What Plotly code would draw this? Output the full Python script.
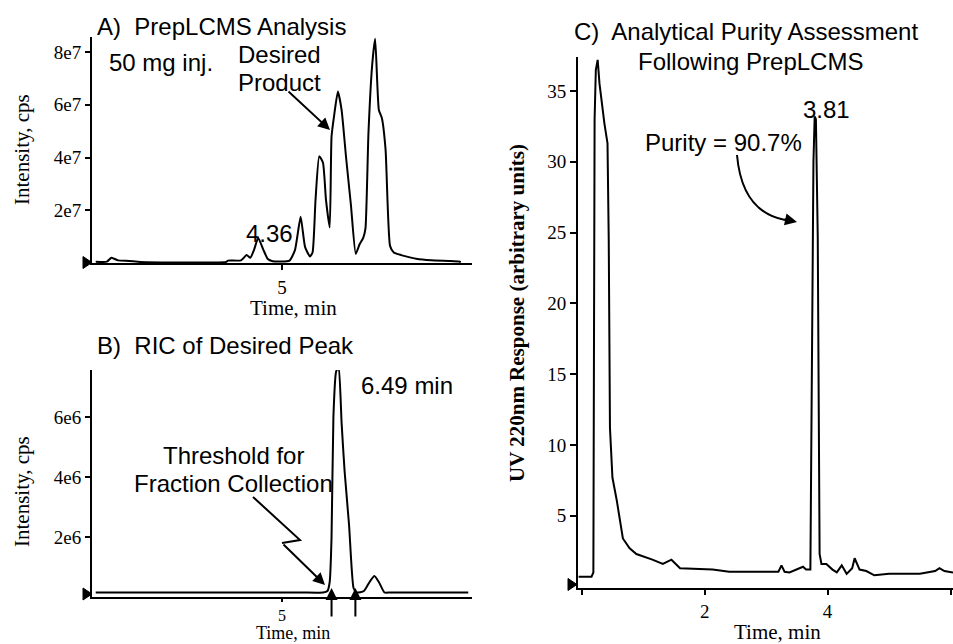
import plotly.graph_objects as go

# panel A: PrepLCMS TIC (time in min, intensity in cps)
a_time = [0.0, 0.3, 0.42, 0.5, 0.6, 0.9, 1.2, 3.5, 3.55, 3.9, 4.05, 4.15, 4.25, 4.36, 4.5, 4.62,
          4.75, 5.2, 5.35, 5.5, 5.62, 5.75, 5.82, 5.9, 6.0, 6.1, 6.18, 6.28, 6.33, 6.4, 6.5, 6.6,
          6.72, 6.85, 6.98, 7.08, 7.18, 7.24, 7.32, 7.42, 7.5, 7.6, 7.68, 7.78, 7.9, 8.0, 8.2,
          8.3, 8.6, 9.0, 9.5, 9.75, 9.8]
a_int = [0.5e6, 0.5e6, 2.0e6, 1.6e6, 1.0e6, 0.8e6, 0.4e6, 0.4e6, 0.9e6, 1.0e6, 3.0e6, 2.0e6,
         5.0e6, 9.5e6, 5.0e6, 1.5e6, 0.7e6, 0.9e6, 5.0e6, 17.5e6, 6.0e6, 2.5e6, 4.0e6, 24e6,
         40.5e6, 38e6, 24e6, 13.5e6, 48e6, 56e6, 65e6, 58e6, 40e6, 22e6, 3.5e6, 7.0e6, 9.5e6,
         13e6, 49e6, 75e6, 85e6, 58e6, 55e6, 43e6, 6.5e6, 4.0e6, 3.0e6, 2.6e6, 1.6e6, 1.0e6,
         0.8e6, 0.6e6, 0.3e6]

# panel B: RIC of the desired peak
b_time = [0.0, 3.0, 5.5, 6.1, 6.22, 6.28, 6.33, 6.38, 6.45, 6.52, 6.6, 6.68, 6.8, 6.92, 7.0,
          7.2, 7.35, 7.48, 7.6, 7.75, 7.9, 8.5, 10.0]
b_int = [0.15e6, 0.15e6, 0.15e6, 0.15e6, 0.2e6, 0.5e6, 2.0e6, 6.0e6, 7.5e6, 7.7e6, 5.8e6,
         4.2e6, 2.4e6, 0.3e6, 0.15e6, 0.2e6, 0.5e6, 0.7e6, 0.5e6, 0.15e6, 0.15e6, 0.15e6, 0.15e6]
collect_window = [6.33, 6.97]

# panel C: analytical UV trace after purification
c_time = [-0.05, 0.16, 0.19, 0.21, 0.23, 0.26, 0.29, 0.33, 0.37, 0.42, 0.44, 0.46, 0.5, 0.57,
          0.67, 0.78, 0.89, 1.15, 1.32, 1.46, 1.6, 2.13, 2.4, 3.2, 3.25, 3.3, 3.38, 3.6, 3.65,
          3.72, 3.75, 3.77, 3.79, 3.81, 3.84, 3.86, 3.87, 3.9, 3.98, 4.08, 4.15, 4.23, 4.31,
          4.4, 4.44, 4.52, 4.63, 4.76, 5.0, 5.5, 5.75, 5.82, 5.9, 6.04]
c_uv = [0.7, 0.7, 1.0, 33.0, 36.5, 37.2, 35.5, 34.0, 32.7, 31.3, 24.5, 11.2, 7.7, 6.1, 3.4,
        2.7, 2.3, 1.9, 1.6, 1.9, 1.3, 1.2, 1.05, 1.05, 1.5, 1.05, 1.0, 1.4, 1.2, 1.2, 24.0,
        30.0, 33.2, 33.0, 24.7, 7.7, 2.3, 1.6, 1.6, 1.2, 1.0, 1.5, 0.9, 1.3, 2.0, 1.2, 1.1,
        0.8, 0.9, 0.9, 1.1, 1.3, 1.1, 1.0]

W, H = 953, 644
SERIF = "Liberation Serif"
SANS = "Liberation Sans"


def px(x):
    return x / W


def py(y):
    return 1 - y / H


fig = go.Figure()

line = dict(color="black", width=2)
smooth = dict(color="black", width=2, shape="spline", smoothing=0.5)
fig.add_trace(go.Scatter(x=a_time, y=a_int, mode="lines", line=smooth, xaxis="x", yaxis="y"))
fig.add_trace(go.Scatter(x=b_time, y=b_int, mode="lines", line=smooth, cliponaxis=False,
                         xaxis="x2", yaxis="y2"))
fig.add_trace(go.Scatter(x=c_time, y=c_uv, mode="lines", line=line, xaxis="x3", yaxis="y3"))

ax_common = dict(showline=True, linecolor="black", linewidth=2, ticks="outside", tickcolor="black",
                 ticklen=5, tickwidth=1.5, showgrid=False, zeroline=False,
                 tickfont=dict(family=SERIF, size=19, color="black"))

fig.update_layout(
    width=W, height=H, margin=dict(l=0, r=0, t=0, b=0),
    paper_bgcolor="white", plot_bgcolor="white", showlegend=False,
    xaxis=dict(ax_common, domain=[px(92), px(472)], range=[-0.1, 10.1], tickvals=[5],
               ticklabelstandoff=1, anchor="y"),
    yaxis=dict(ax_common, domain=[py(263), py(37)], range=[0, 8.57e7],
               tickvals=[2e7, 4e7, 6e7, 8e7], ticktext=["2e7", "4e7", "6e7", "8e7"], anchor="x"),
    xaxis2=dict(ax_common, domain=[px(92), px(472)], range=[-0.1, 10.1], tickvals=[5],
                ticklen=3, ticklabelstandoff=0, tickfont=dict(family=SERIF, size=16, color="black"),
                anchor="y2"),
    yaxis2=dict(ax_common, domain=[py(597), py(370)], range=[0, 7.57e6],
                tickvals=[2e6, 4e6, 6e6], ticktext=["2e6", "4e6", "6e6"], anchor="x2"),
    xaxis3=dict(ax_common, domain=[px(578), 1.0], range=[-0.06, 6.04], tickvals=[0, 2, 4, 6],
                ticktext=["", "2", "4", ""], anchor="y3"),
    yaxis3=dict(ax_common, domain=[py(588), py(57)], range=[-0.1, 37.4],
                tickvals=[5, 10, 15, 20, 25, 30, 35], ticklen=6, anchor="x3"),
)

sans = dict(family=SANS, size=24, color="black")
serif = dict(family=SERIF, size=21, color="black")


def text(x, y, s, font=sans, xanchor="center", yanchor="middle", **kw):
    fig.add_annotation(x=px(x), y=py(y), xref="paper", yref="paper", text=s, showarrow=False,
                       font=font, xanchor=xanchor, yanchor=yanchor, **kw)


# panel titles and labels
text(95, 26, "A)  PrepLCMS Analysis", xanchor="left")
text(95, 345, "B)  RIC of Desired Peak", xanchor="left")
text(746, 32, "C)  Analytical Purity Assessment")
text(750, 61, "Following PrepLCMS")
text(107, 62, "50 mg inj.", xanchor="left")
text(279, 55, "Desired")
text(279, 83, "Product")
text(269, 233, "4.36")
text(407, 385, "6.49 min")
text(233, 455, "Threshold for")
text(233, 483, "Fraction Collection")
text(826, 110, "3.81")
text(723, 142, "Purity = 90.7%")

# axis titles
text(293, 308, "Time, min", font=serif)
text(293, 645, "Time, min", font=dict(serif, size=18), yanchor="bottom")
text(777, 632, "Time, min", font=serif)
text(22, 150, "Intensity, cps", font=serif, textangle=-90)
text(22, 492, "Intensity, cps", font=serif, textangle=-90)
text(517, 313, "<b>UV 220nm Response (arbitrary units)</b>", font=serif, textangle=-90)

# start-of-run triangles left of each y axis
for x0, x1, y0 in [(83, 92, 262.5), (83, 92, 594), (568, 577, 584.5)]:
    fig.add_shape(type="path", xref="paper", yref="paper", fillcolor="black",
                  line=dict(color="black", width=1),
                  path=f"M {px(x0)},{py(y0 - 6)} L {px(x1)},{py(y0)} L {px(x0)},{py(y0 + 6)} Z")

# arrows
fig.add_annotation(x=px(330), y=py(130), xref="paper", yref="paper", ax=-43, ay=-40,
                   showarrow=True, arrowhead=2, arrowsize=1.2, arrowwidth=2, arrowcolor="black",
                   text="")
fig.add_shape(type="path", xref="paper", yref="paper",
              path=f"M {px(253)},{py(497)} L {px(300)},{py(540)} L {px(282)},{py(543)}",
              line=dict(color="black", width=2))
fig.add_annotation(x=px(325), y=py(585), xref="paper", yref="paper", ax=-43, ay=-42,
                   showarrow=True, arrowhead=2, arrowsize=1.2, arrowwidth=2, arrowcolor="black",
                   text="")
for t in collect_window:
    fig.add_annotation(x=t, y=0.3e6, xref="x2", yref="y2", ax=0, ay=30, showarrow=True,
                       arrowhead=2, arrowsize=1.2, arrowwidth=2, arrowcolor="black", text="")
fig.add_shape(type="path", xref="paper", yref="paper",
              path=f"M {px(737)},{py(155)} Q {px(742)},{py(212)} {px(785)},{py(220)}",
              line=dict(color="black", width=2))
fig.add_annotation(x=px(797), y=py(222), xref="paper", yref="paper", ax=-14, ay=-3,
                   showarrow=True, arrowhead=2, arrowsize=1.2, arrowwidth=2, arrowcolor="black",
                   text="")

fig.write_html("out.html", config={"displayModeBar": False},
               post_script="document.body.style.margin='0';document.body.style.overflow='hidden';")
